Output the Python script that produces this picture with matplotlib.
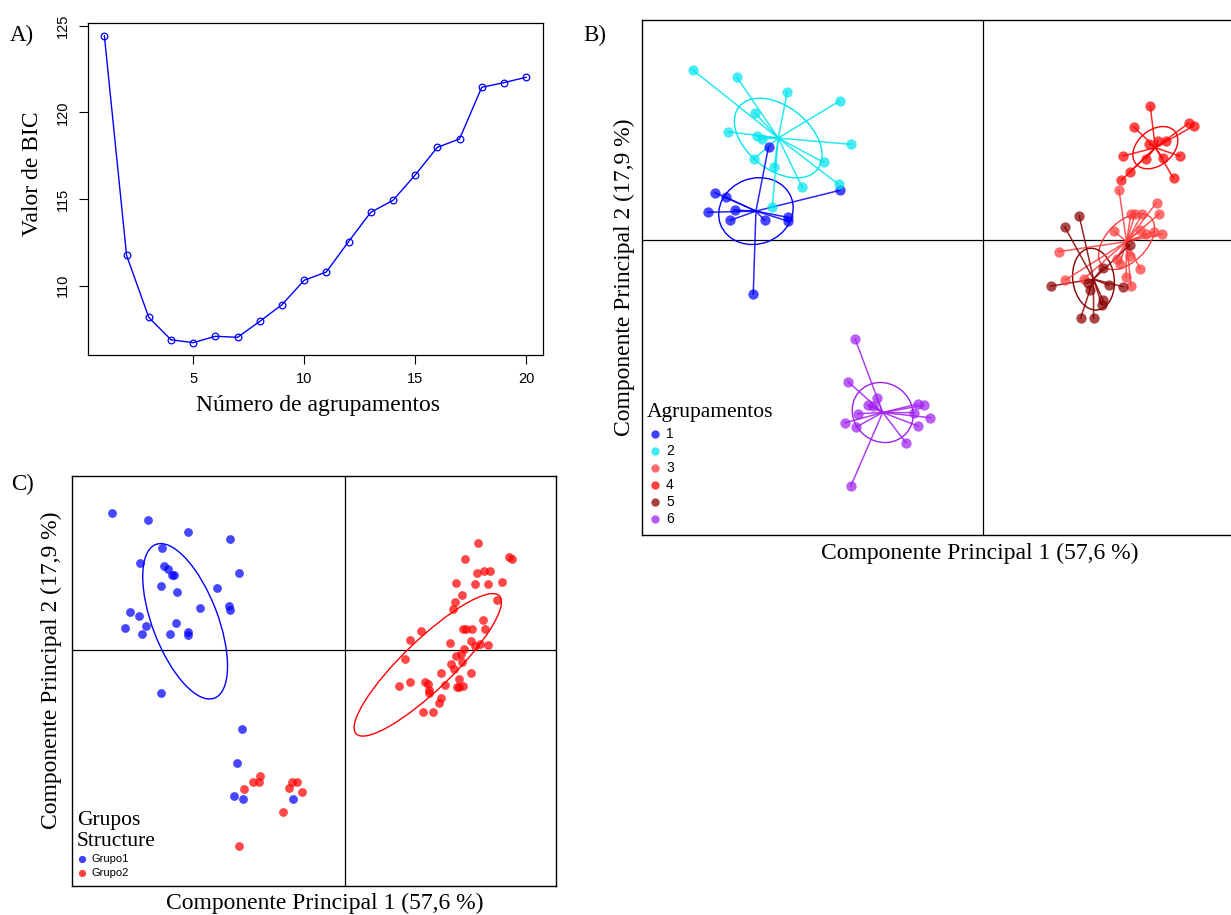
import numpy as np
import matplotlib
matplotlib.use('Agg')
from matplotlib import pyplot as plt
from matplotlib.patches import Ellipse

W, H = 1231, 915
SERIF = 'Liberation Serif'
SANS = 'Liberation Sans'

# A) BIC per number of clusters
n_groups = np.arange(1, 21)
bic = [124.42, 111.75, 108.17, 106.88, 106.71, 107.08, 107.02, 107.94, 108.90, 110.31,
       110.79, 112.54, 114.23, 114.92, 116.38, 117.98, 118.46, 121.44, 121.71, 122.02]

# B) PCA scores per cluster (PC1, PC2)
clus1 = [(-5.36, 0.946), (-5.146, 0.854), (-5.506, 0.554), (-4.974, 0.60), (-5.06, 0.394),
         (-4.374, 0.394), (-3.914, 0.454), (-3.914, 0.38), (-2.866, 0.994), (-4.294, 1.866),
         (-4.60, -1.08)]
clus2 = [(-5.814, 3.406), (-4.926, 3.254), (-3.92, 2.96), (-2.874, 2.78), (-4.566, 2.54),
         (-5.106, 2.166), (-4.526, 2.086), (-4.42, 2.026), (-2.654, 1.914), (-4.594, 1.614),
         (-4.18, 1.454), (-3.194, 1.554), (-3.62, 1.054), (-2.894, 1.114), (-4.22, 0.66)]
clus3 = [(2.714, 1.00), (3.466, 0.746), (2.954, 0.526), (3.04, 0.526), (3.18, 0.514),
         (3.52, 0.52), (2.62, 0.174), (3.14, 0.20), (3.26, 0.114), (3.406, 0.154),
         (3.58, 0.12), (1.506, -0.234), (2.94, -0.314), (2.726, -0.48), (3.14, -0.58),
         (1.64, -0.80), (2.006, -0.78), (2.86, -0.746), (2.954, -0.92), (2.666, -0.38)]
clus4 = [(3.34, 2.674), (3.014, 2.26), (4.106, 2.334), (4.206, 2.28), (3.314, 1.92),
         (3.494, 1.98), (3.646, 1.98), (2.794, 1.68), (3.26, 1.626), (3.586, 1.646),
         (3.926, 1.68), (3.806, 1.234), (2.94, 1.366), (2.76, 1.194)]
clus5 = [(1.92, 0.48), (1.634, 0.254), (1.354, -0.92), (2.10, -0.86), (2.126, -1.00),
         (2.506, -0.906), (2.794, -0.934), (2.394, -1.20), (2.374, -1.30), (1.946, -1.566),
         (2.206, -1.566), (2.926, -0.10), (2.386, -0.56)]
clus6 = [(-2.56, -1.986), (-2.706, -2.834), (-2.126, -3.166), (-2.314, -3.30), (-2.206, -3.32),
         (-1.314, -3.28), (-1.194, -3.306), (-2.506, -3.474), (-1.386, -3.454), (-1.06, -3.554),
         (-2.76, -3.654), (-2.54, -3.74), (-1.306, -3.72), (-1.546, -4.054), (-2.646, -4.914)]
clusters = [clus1, clus2, clus3, clus4, clus5, clus6]
clus_labels = ['1', '2', '3', '4', '5', '6']
clus_colors = ['#0000FF', '#00E5EE', '#FF3B3B', '#FF0000', '#8B0000', '#A020F0']

# C) same PCA, coloured by Structure groups
grupo1 = [(-5.825, 3.418), (-4.933, 3.25), (-3.933, 2.958), (-2.875, 2.775), (-4.568, 2.543),
          (-5.118, 2.175), (-4.533, 2.10), (-4.433, 2.033), (-4.318, 1.868), (-4.283, 1.868),
          (-2.658, 1.918), (-4.60, 1.608), (-4.193, 1.458), (-3.193, 1.558), (-3.625, 1.058),
          (-2.893, 1.108), (-2.868, 1.00), (-5.375, 0.95), (-5.15, 0.858), (-5.508, 0.558),
          (-4.975, 0.608), (-4.225, 0.668), (-5.075, 0.40), (-4.383, 0.40), (-3.933, 0.443),
          (-3.933, 0.368), (-4.593, -1.068), (-2.568, -1.983), (-2.70, -2.833), (-2.775, -3.65),
          (-2.543, -3.733), (-1.308, -3.725)]
grupo2 = [(-2.125, -3.158), (-2.308, -3.30), (-2.158, -3.30), (-2.518, -3.475), (-1.318, -3.293),
          (-1.193, -3.30), (-1.393, -3.45), (-1.068, -3.55), (-1.543, -4.05), (-2.65, -4.90),
          (3.333, 2.668), (4.10, 2.333), (4.183, 2.283), (3.00, 2.268), (3.308, 1.918),
          (3.483, 1.975), (3.633, 1.975), (2.783, 1.683), (3.243, 1.643), (3.583, 1.658),
          (3.925, 1.693), (2.925, 1.375), (3.793, 1.243), (2.758, 1.20), (2.708, 1.018),
          (3.458, 0.75), (2.958, 0.533), (3.018, 0.533), (3.175, 0.518), (3.508, 0.518),
          (1.90, 0.483), (1.625, 0.258), (2.618, 0.183), (3.15, 0.218), (3.258, 0.108),
          (3.375, 0.158), (3.575, 0.125), (1.508, -0.225), (2.983, 0.018), (2.908, -0.108),
          (2.783, -0.15), (2.65, -0.358), (2.925, -0.308), (2.725, -0.483), (2.393, -0.568),
          (3.15, -0.583), (2.85, -0.725), (2.00, -0.793), (1.633, -0.808), (2.083, -0.85),
          (1.35, -0.908), (2.50, -0.883), (2.108, -0.993), (2.108, -1.068), (2.793, -0.918),
          (2.858, -0.918), (2.958, -0.908), (2.393, -1.208), (2.358, -1.318), (1.95, -1.558),
          (2.208, -1.55)]
groups = [grupo1, grupo2]
group_labels = ['Grupo1', 'Grupo2']
group_colors = ['#0000FF', '#FF0000']

LAB_FS = 17
TITLE_FS = 15.5
LETTER_FS = 16.5


def px_axes(fig, l, t, r, b):
    return fig.add_axes([l / W, 1 - b / H, (r - l) / W, (b - t) / H])


def ftext(fig, x, y, s, **kw):
    return fig.text(x / W, 1 - y / H, s, **kw)


def fdot(fig, x, y, color, ms):
    fig.add_artist(matplotlib.lines.Line2D([x / W], [1 - y / H], marker='o', ls='none',
                                           ms=ms, color=color, alpha=0.75, mew=0))


def cov_ellipse(pts, color, cellipse=1.0, lw=1.0):
    pts = np.asarray(pts)
    cov = np.cov(pts.T, bias=True)
    vals, vecs = np.linalg.eigh(cov)
    angle = np.degrees(np.arctan2(vecs[1, 1], vecs[0, 1]))
    return Ellipse(pts.mean(axis=0), 2 * cellipse * np.sqrt(vals[1]), 2 * cellipse * np.sqrt(vals[0]),
                   angle=angle, fill=False, edgecolor=color, lw=lw)


def pca_frame(ax):
    ax.axhline(0, color='black', lw=0.9, zorder=1)
    ax.axvline(0, color='black', lw=0.9, zorder=1)
    ax.set_xticks([])
    ax.set_yticks([])
    for sp in ax.spines.values():
        sp.set_linewidth(1.0)


fig = plt.figure(figsize=(W / 100, H / 100), dpi=100)

# ---- A
axA = px_axes(fig, 87.5, 23, 543, 355)
axA.plot(n_groups, bic, '-o', color='#0000FF', lw=1.0, ms=4.8, mfc='none', mew=0.9)
axA.set_xlim(0.24, 20.76)
axA.set_ylim(106.0, 125.15)
axA.set_xticks([5, 10, 15, 20])
axA.set_yticks([110, 115, 120, 125])
axA.tick_params(direction='out', length=6.5, width=0.8, labelsize=10.5, pad=6)
for lbl in axA.get_xticklabels() + axA.get_yticklabels():
    lbl.set_family(SANS)
for lbl in axA.get_yticklabels():
    lbl.set_rotation(90)
    lbl.set_va('center')
for sp in axA.spines.values():
    sp.set_linewidth(0.9)
ftext(fig, 318, 406, 'Número de agrupamentos', family=SERIF, fontsize=LAB_FS, ha='center', va='center')
ftext(fig, 32, 174, 'Valor de BIC', family=SERIF, fontsize=LAB_FS, ha='center', va='center', rotation=90)
ftext(fig, 22, 35, 'A)', family=SERIF, fontsize=LETTER_FS, ha='center', va='center')

# ---- B
axB = px_axes(fig, 642, 20, 1247, 535)
axB.set_xlim(-6.825, 5.275)
axB.set_ylim(-5.9, 4.4)
pca_frame(axB)
for pts, col in zip(clusters, clus_colors):
    arr = np.asarray(pts)
    cx, cy = arr.mean(axis=0)
    for x, y in arr:
        axB.plot([cx, x], [cy, y], color=col, lw=1.1, alpha=0.85, zorder=2)
    axB.add_patch(cov_ellipse(arr, col))
    axB.scatter(arr[:, 0], arr[:, 1], s=55, color=col, alpha=0.72, lw=0, zorder=3)
ftext(fig, 980, 553, 'Componente Principal 1 (57,6 %)', family=SERIF, fontsize=LAB_FS, ha='center', va='center')
ftext(fig, 624, 277, 'Componente Principal 2 (17,9 %)', family=SERIF, fontsize=LAB_FS, ha='center', va='center', rotation=90)
ftext(fig, 595, 35, 'B)', family=SERIF, fontsize=LETTER_FS, ha='center', va='center')
ftext(fig, 647, 412, 'Agrupamentos', family=SERIF, fontsize=TITLE_FS, ha='left', va='center')
for i, (lab, col) in enumerate(zip(clus_labels, clus_colors)):
    y = 434.3 + i * 16.9
    fdot(fig, 655, y, col, 6)
    ftext(fig, 666, y, lab, family=SANS, fontsize=10, ha='left', va='center')

# ---- C
axC = px_axes(fig, 72, 476, 556, 886)
axC.set_xlim(-6.825, 5.275)
axC.set_ylim(-5.9, 4.35)
pca_frame(axC)
for pts, col in zip(groups, group_colors):
    arr = np.asarray(pts)
    axC.scatter(arr[:, 0], arr[:, 1], s=40, color=col, alpha=0.72, lw=0, zorder=3)
    axC.add_patch(cov_ellipse(arr, col))
ftext(fig, 325, 903, 'Componente Principal 1 (57,6 %)', family=SERIF, fontsize=LAB_FS, ha='center', va='center')
ftext(fig, 51, 670, 'Componente Principal 2 (17,9 %)', family=SERIF, fontsize=LAB_FS, ha='center', va='center', rotation=90)
ftext(fig, 22, 484, 'C)', family=SERIF, fontsize=LETTER_FS, ha='center', va='center')
ftext(fig, 77, 821, 'Grupos', family=SERIF, fontsize=TITLE_FS, ha='left', va='center')
ftext(fig, 77, 842, 'Structure', family=SERIF, fontsize=TITLE_FS, ha='left', va='center')
for i, (lab, col) in enumerate(zip(group_labels, group_colors)):
    y = 859.3 + i * 13.2
    fdot(fig, 82, y, col, 5.2)
    ftext(fig, 92, y, lab, family=SANS, fontsize=8, ha='left', va='center')

fig.savefig('out.png', dpi=100)
